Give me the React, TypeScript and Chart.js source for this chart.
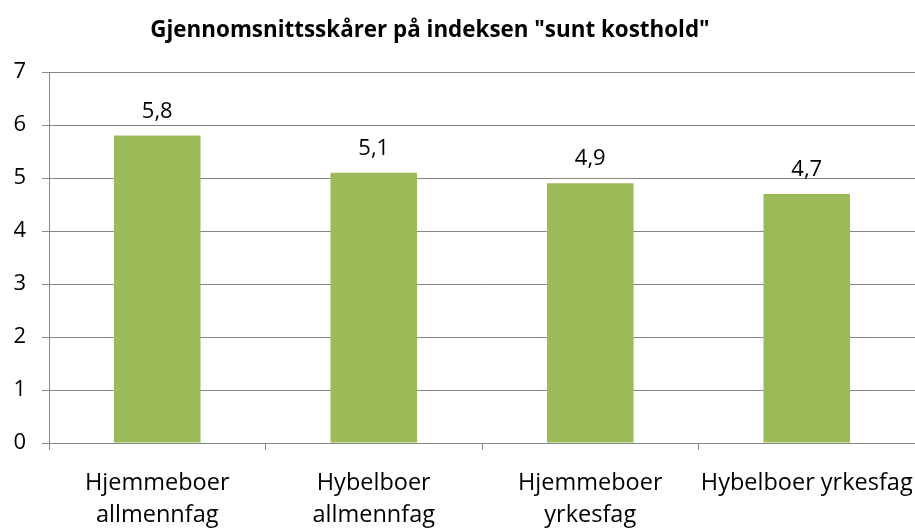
import React, { useEffect, useRef } from "react";
import { Chart, registerables } from "chart.js";

Chart.register(...registerables);

const titleText = 'Gjennomsnittsskårer på indeksen "sunt kosthold"';
const categories: (string | string[])[] = [
  ["Hjemmeboer", "allmennfag"],
  ["Hybelboer", "allmennfag"],
  ["Hjemmeboer", "yrkesfag"],
  "Hybelboer yrkesfag",
];
const values = [5.8, 5.1, 4.9, 4.7];
const valueLabels = ["5,8", "5,1", "4,9", "4,7"];
const yTicks = [0, 1, 2, 3, 4, 5, 6, 7];

const FONT = "'Open Sans', Lato, sans-serif";

export default function App() {
  const ref = useRef<HTMLCanvasElement | null>(null);
  useEffect(() => {
    document.body.style.margin = "0";
    const canvas = ref.current!;
    const labelPlugin = {
      id: "valueLabels",
      afterDatasetsDraw(chart: any) {
        const ctx = chart.ctx;
        const meta = chart.getDatasetMeta(0);
        ctx.save();
        ctx.font = `22px ${FONT}`;
        ctx.fillStyle = "#000";
        ctx.textAlign = "center";
        ctx.textBaseline = "alphabetic";
        meta.data.forEach((el: any, i: number) => {
          ctx.fillText(valueLabels[i], el.x, el.y - 18);
        });
        ctx.restore();
      },
    };
    const titlePlugin = {
      id: "customTitle",
      afterDraw(chart: any) {
        const ctx = chart.ctx;
        ctx.save();
        ctx.font = `bold 22.4px ${FONT}`;
        ctx.fillStyle = "#000";
        ctx.textAlign = "center";
        ctx.textBaseline = "alphabetic";
        ctx.fillText(titleText, 430, 37);
        ctx.restore();
      },
    };
    const chart = new Chart(canvas, {
      type: "bar",
      data: {
        labels: categories,
        datasets: [
          {
            data: values,
            backgroundColor: "#9BBB59",
            borderWidth: 0,
            barPercentage: 0.4,
            categoryPercentage: 1,
          },
        ],
      },
      options: {
        animation: false,
        responsive: false,
        devicePixelRatio: 1,
        layout: { padding: { top: 72, left: 0, right: 0, bottom: 0 } },
        plugins: { legend: { display: false }, title: { display: false }, tooltip: { enabled: false } },
        scales: {
          x: {
            offset: true,
            grid: { offset: true, drawOnChartArea: false, drawTicks: true, tickLength: 7, color: "#868686" },
            border: { color: "#868686", width: 1 },
            ticks: { font: { family: FONT, size: 23.5, lineHeight: 1.38 }, color: "#000", padding: 17, maxRotation: 0, autoSkip: false },
            afterFit: (s: any) => {
              s.height = 87;
              s.paddingLeft = 0;
              s.paddingRight = 0;
            },
          },
          y: {
            min: 0,
            max: 7,
            afterBuildTicks: (s: any) => { s.ticks = yTicks.map((v) => ({ value: v })); },
            grid: { color: "#868686", tickLength: 7 },
            border: { color: "#868686", width: 1 },
            ticks: { font: { family: FONT, size: 22 }, color: "#000", padding: 16 },
            afterFit: (s: any) => {
              s.width = 49;
              s.paddingTop = 0;
              s.paddingBottom = 0;
            },
          },
        },
      },
      plugins: [labelPlugin, titlePlugin],
    });
    return () => chart.destroy();
  }, []);
  return <canvas ref={ref} width={915} height={530} style={{ display: "block" }} />;
}
